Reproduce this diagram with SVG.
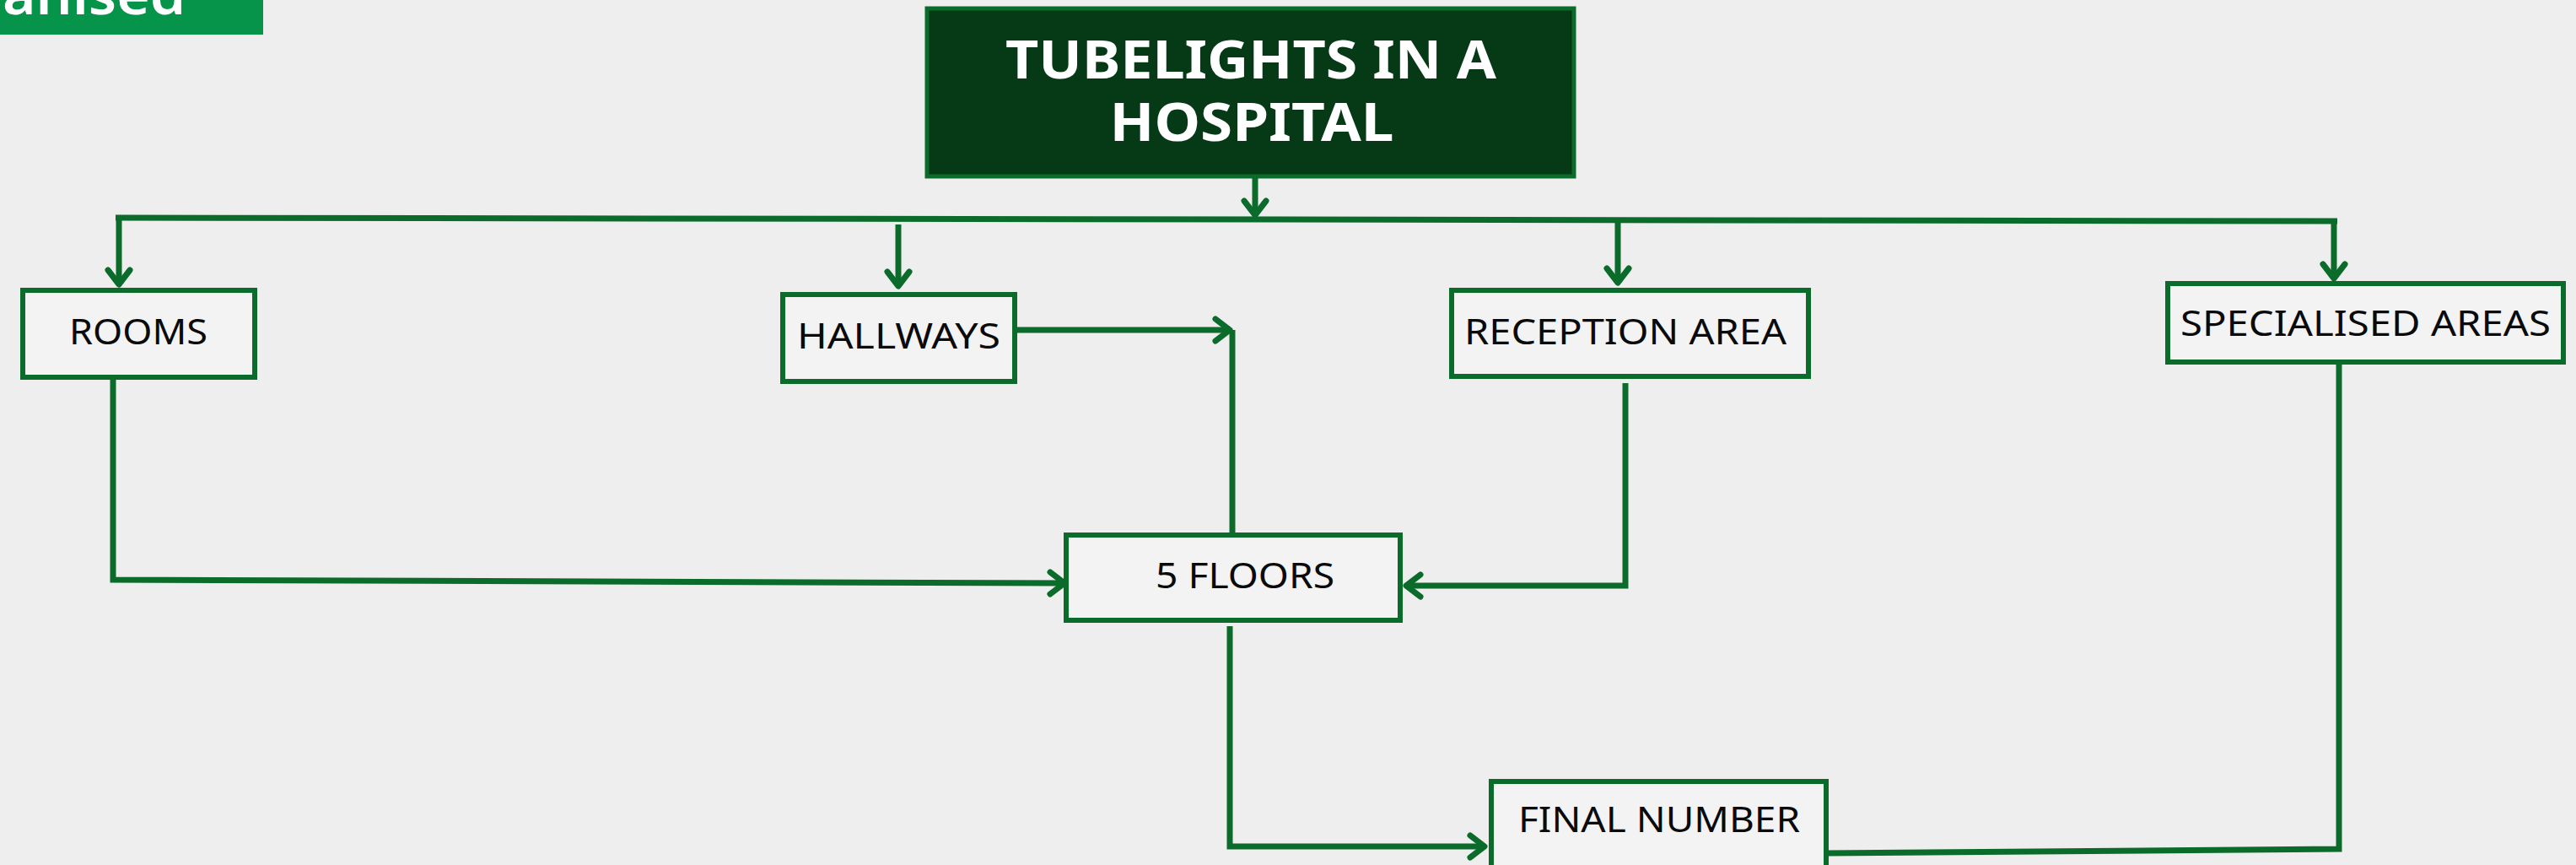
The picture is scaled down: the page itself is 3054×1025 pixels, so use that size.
<svg xmlns="http://www.w3.org/2000/svg" width="3054" height="1025" viewBox="0 0 3054 1025">
  <style>
    .node rect { fill: #f3f3f3; stroke: #0b6b2b; stroke-width: 6; }
    .node text { font-family: "Noto Sans", "Open Sans", sans-serif; font-size: 41px; fill: #0a0a0a; }
    .title rect { fill: #063a16; stroke: #0b6b2b; stroke-width: 5; }
    .title text { font-family: "Noto Sans", "Open Sans", sans-serif; font-weight: 700; font-size: 62px; fill: #ffffff; text-anchor: middle; }
    .conn path { fill: none; stroke: #0b6b2b; stroke-width: 7; stroke-linejoin: miter; }
  </style>
  <defs>
    <marker id="chev" markerUnits="userSpaceOnUse" viewBox="-30 -20 40 40" refX="0" refY="0" markerWidth="40" markerHeight="40" orient="auto" overflow="visible">
      <path d="M-17,-13 L0,0 L-17,13" fill="none" stroke="#0b6b2b" stroke-width="7" stroke-linecap="round" stroke-linejoin="round"/>
    </marker>
  </defs>

  <!-- page background -->
  <rect x="0" y="0" width="3054" height="1025" fill="#eeeeee"/>

  <!-- header banner, partly outside the page -->
  <g id="banner">
    <rect x="0" y="0" width="312" height="41" fill="#05944a"/>
    <text x="3" y="17" font-family="'Noto Sans', 'Open Sans', sans-serif" font-weight="600" font-size="64" fill="#ffffff" textLength="217" lengthAdjust="spacingAndGlyphs">anised</text>
  </g>

  <!-- connectors -->
  <g id="connectors" class="conn">
    <!-- title down to the distribution bus -->
    <path d="M1488,209 V255" marker-end="url(#chev)"/>
    <!-- distribution bus -->
    <path d="M137,258 L2771,262"/>
    <!-- drops to each area -->
    <path d="M141,258 V337" marker-end="url(#chev)"/>
    <path d="M1065,266 V339" marker-end="url(#chev)"/>
    <path d="M1918,261 V335" marker-end="url(#chev)"/>
    <path d="M2767,262 V330" marker-end="url(#chev)"/>
    <!-- hallways to 5 floors -->
    <path d="M1206,391 H1458" marker-end="url(#chev)"/>
    <path d="M1461,391 V631"/>
    <!-- rooms to 5 floors -->
    <path d="M134,450 V687 L1262,691" marker-end="url(#chev)"/>
    <!-- reception area to 5 floors -->
    <path d="M1927,454 V694 H1667" marker-end="url(#chev)"/>
    <!-- 5 floors to final number -->
    <path d="M1458,742 V1003 H1760" marker-end="url(#chev)"/>
    <!-- specialised areas to final number -->
    <path d="M2773,432 V1006 L2166,1011"/>
  </g>

  <!-- nodes -->
  <g id="title" class="title">
    <rect x="1099" y="10" width="767" height="199"/>
    <text x="1483" y="93" textLength="582" lengthAdjust="spacingAndGlyphs">TUBELIGHTS IN A</text>
    <text x="1484" y="167" textLength="337" lengthAdjust="spacingAndGlyphs">HOSPITAL</text>
  </g>

  <g id="rooms" class="node">
    <rect x="27" y="344" width="275" height="103"/>
    <text x="82" y="408" textLength="164" lengthAdjust="spacingAndGlyphs">ROOMS</text>
  </g>

  <g id="hallways" class="node">
    <rect x="928" y="349" width="275" height="103"/>
    <text x="945" y="413" textLength="241" lengthAdjust="spacingAndGlyphs">HALLWAYS</text>
  </g>

  <g id="reception-area" class="node">
    <rect x="1721" y="344" width="423" height="102"/>
    <text x="1736" y="408" textLength="382" lengthAdjust="spacingAndGlyphs">RECEPTION AREA</text>
  </g>

  <g id="specialised-areas" class="node">
    <rect x="2570" y="336" width="469" height="93"/>
    <text x="2585" y="398" textLength="439" lengthAdjust="spacingAndGlyphs">SPECIALISED AREAS</text>
  </g>

  <g id="five-floors" class="node">
    <rect x="1264" y="634" width="396" height="101"/>
    <text x="1370" y="697" textLength="212" lengthAdjust="spacingAndGlyphs">5 FLOORS</text>
  </g>

  <g id="final-number" class="node">
    <rect x="1768" y="926" width="397" height="130"/>
    <text x="1800" y="986" textLength="334" lengthAdjust="spacingAndGlyphs">FINAL NUMBER</text>
  </g>
</svg>
